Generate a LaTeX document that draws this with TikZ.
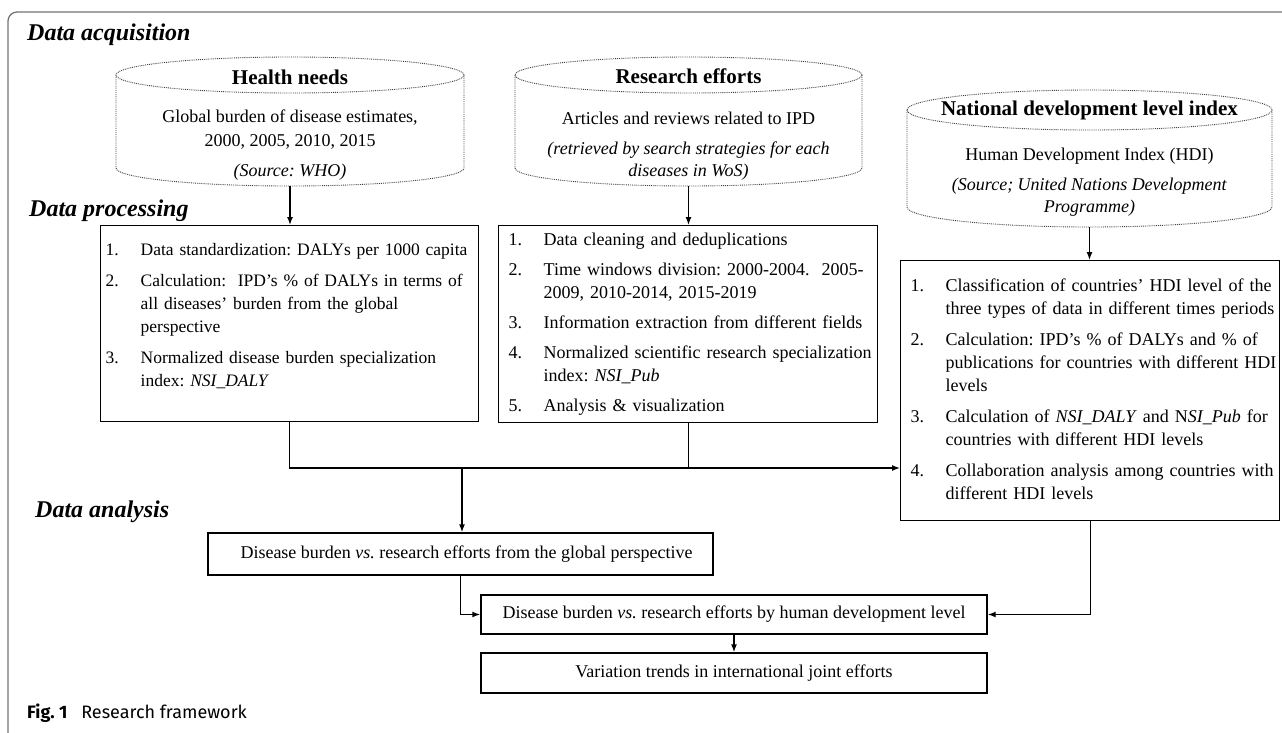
\documentclass[tikz,border=0pt]{standalone}
\usepackage{fontspec}
\setmainfont{Liberation Serif}
\newfontfamily\captionfont{Fira Sans}
\usetikzlibrary{arrows.meta,positioning}

\newcommand\bodysize{\fontsize{18}{23}\selectfont}

\tikzset{
  stage/.style={anchor=west, inner sep=0pt, font=\fontsize{24}{28}\selectfont\bfseries\itshape},
  cylline/.style={densely dotted, line width=0.9pt, black!75},
  cyltitle/.style={inner sep=0pt, font=\fontsize{21}{24}\selectfont\bfseries},
  cyltext/.style={inner sep=0pt, align=center, font=\fontsize{18}{24}\selectfont},
  listbox/.style={draw, line width=1.4pt, anchor=north west, inner ysep=0pt, font=\bodysize},
  flowbox/.style={draw, line width=1.4pt, inner sep=0pt, font=\bodysize},
  conn/.style={line width=1.4pt},
  arr/.style={conn, -{Latex[length=8pt,width=6pt]}},
}

\begin{document}
\frenchspacing
\begin{tikzpicture}[x=1pt, y=-1pt]
            \useasboundingbox (0,0) rectangle (1282,732);
            \draw[black!55, line width=1.3pt, rounded corners=9pt] (8,740) -- (8,12) -- (1295,12);

            \node[stage] (acquisition) at (27,35) {Data acquisition};
            \node[stage] (processing) at (29,211) {Data processing};
            \node[stage] (analysis) at (35,512) {Data analysis};

            % data sources
            \draw[cylline] (290,75) ellipse [x radius=174pt, y radius=18pt];
            \draw[cylline] (116,75) -- (116,168) arc [start angle=180, end angle=360, x radius=174pt, y radius=18pt] -- (464,75);
            \coordinate (needs) at (290,186);
            \node[cyltitle] (needs title) at (290,77) {Health needs};
            \node[cyltext] (needs text) at (290,145) {Global burden of disease estimates,\\2000, 2005, 2010, 2015\\[6pt]\textit{(Source: WHO)}};

            \draw[cylline] (688.5,75) ellipse [x radius=173.5pt, y radius=18pt];
            \draw[cylline] (515,75) -- (515,168) arc [start angle=180, end angle=360, x radius=173.5pt, y radius=18pt] -- (862,75);
            \coordinate (efforts) at (688.5,186);
            \node[cyltitle] (efforts title) at (688.5,76) {Research efforts};
            \node[cyltext] (efforts text) at (688.5,146) {Articles and reviews related to IPD\\[6pt]\textit{(retrieved by search strategies for each}\\[-2pt]\textit{diseases in WoS)}};

            \draw[cylline] (1089.5,110) ellipse [x radius=182.5pt, y radius=20pt];
            \draw[cylline] (907,110) -- (907,207) arc [start angle=180, end angle=360, x radius=182.5pt, y radius=20pt] -- (1272,110);
            \coordinate (index) at (1089.5,227);
            \node[cyltitle] (index title) at (1089.5,110) {National development level index};
            \node[cyltext] (index text) at (1089.5,182) {Human Development Index (HDI)\\[6pt]\textit{(Source; United Nations Development}\\[-2pt]\textit{Programme)}};

            % processing
            \node[listbox, minimum width=378, minimum height=196, inner xsep=5pt, text width=368pt, font=\fontsize{17.5}{23}\selectfont] (procneeds) at (100,225) {%
              \begin{tabular}{@{}p{35pt}@{}l@{}}
              1. & Data standardization: DALYs per 1000 capita\\[8pt]
              2. & Calculation:\ \ IPD's \% of DALYs in terms of\\
                 & all diseases' burden from the global\\
                 & perspective\\[8pt]
              3. & Normalized disease burden specialization\\
                 & index: \textit{NSI\_DALY}\\[15pt]
              \end{tabular}};
            \node[listbox, minimum width=379, minimum height=197, inner xsep=10pt, text width=359pt] (proceffs) at (498,225) {%
              \begin{tabular}{@{}p{35pt}@{}l@{}}
              1. & Data cleaning and deduplications\\[7pt]
              2. & Time windows division: 2000-2004.\ \ 2005-\\
                 & 2009, 2010-2014, 2015-2019\\[7pt]
              3. & Information extraction from different fields\\[7pt]
              4. & Normalized scientific research specialization\\
                 & index: \textit{NSI\_Pub}\\[7pt]
              5. & Analysis \& visualization
              \end{tabular}};
            \node[listbox, minimum width=379, minimum height=260, inner xsep=10pt, text width=359pt] (procindex) at (900,260) {%
              \begin{tabular}{@{}p{35pt}@{}l@{}}
              1. & Classification of countries' HDI level of the\\
                 & three types of data in different times periods\\[8pt]
              2. & Calculation: IPD's \% of DALYs and \% of\\
                 & publications for countries with different HDI\\
                 & levels\\[8pt]
              3. & Calculation of \textit{NSI\_DALY} and N\textit{SI\_Pub} for\\
                 & countries with different HDI levels\\[8pt]
              4. & Collaboration analysis among countries with\\
                 & different HDI levels
              \end{tabular}};

            % analysis
            \node[flowbox, minimum width=505, minimum height=42] (global) at (460.5,554) {\hspace{12pt}Disease burden \textit{vs.} research efforts from the global perspective};
            \node[flowbox, minimum width=506, minimum height=39] (bylevel) at (734,614.5) {Disease burden \textit{vs.} research efforts by human development level};
            \node[flowbox, minimum width=506, minimum height=40] (trends) at (734,673) {Variation trends in international joint efforts};

            \coordinate (merge) at (462,468);

            \draw[arr] (needs) -- (needs |- procneeds.north);
            \draw[arr] (efforts) -- (efforts |- proceffs.north);
            \draw[arr] (index) -- (index |- procindex.north);

            \draw[arr] (procneeds.south) |- (procindex.west |- merge);
            \draw[conn] (proceffs.south) -- (proceffs.south |- merge);
            \draw[arr] (merge) -- (merge |- global.north);
            \draw[arr] (global.south) |- (bylevel.west);
            \draw[arr] (procindex.south) |- (bylevel.east);
            \draw[arr] (bylevel) -- (trends);

            \node[anchor=west, inner sep=0pt, font=\captionfont\fontsize{18}{20}\selectfont] (caption) at (27,713) {\textbf{Fig. 1}\hspace{14pt}Research framework};
        \end{tikzpicture}
\end{document}
